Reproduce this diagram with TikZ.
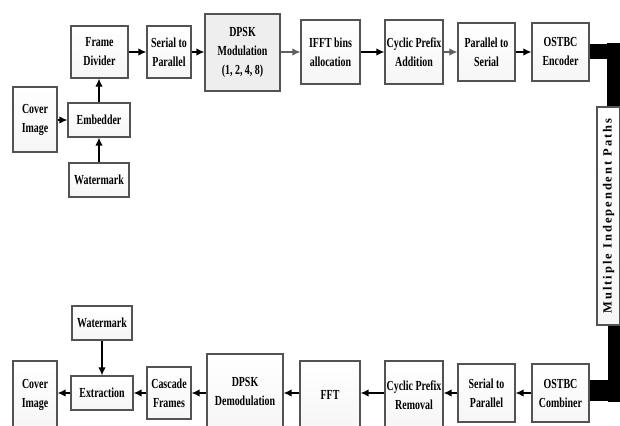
\documentclass[tikz,border=0pt]{standalone}
\usepackage{fontspec}
\usepackage{graphicx}
\setmainfont{Liberation Serif}
\newfontfamily\boxfont[FakeStretch=0.72]{Liberation Serif}
\newfontfamily\pathfont[LetterSpace=16]{Liberation Serif}
\usetikzlibrary{arrows.meta}
\tikzset{
  blk/.style={draw=gray!65!black, line width=1.1pt, top color=white, bottom color=gray!7,
    align=center, inner sep=0pt,
    font={\boxfont\bfseries\fontsize{13.8pt}{19pt}\selectfont}},
  arr/.style={line width=1.8pt, -{Latex[length=8pt,width=7.5pt]}},
  garr/.style={arr, draw=gray!75!black, -{Latex[length=8pt,width=7.5pt,fill=gray!75!black]}},
  thickbar/.style={draw=black, line cap=butt}
}
\begin{document}
\begin{tikzpicture}[x=1pt,y=-1pt]
\useasboundingbox (0,0) rectangle (620,425);
\clip (0,0) rectangle (620,425);
% top row
\node[blk, minimum width=44pt, minimum height=65pt] (coverT) at (35,119.5) {Cover\\Image};
\node[blk, minimum width=62pt, minimum height=34pt] (embed) at (99,120) {Embedder};
\node[blk, minimum width=60pt, minimum height=34pt] (wmT) at (99,180) {Watermark};
\node[blk, minimum width=57pt, minimum height=52pt] (frame) at (99.5,52) {Frame\\Divider};
\node[blk, minimum width=44pt, minimum height=52pt] (s2p) at (169,52) {Serial to\\Parallel};
\node[blk, minimum width=75pt, minimum height=77pt, top color=gray!13, bottom color=gray!13] (dpsk) at (242.5,52.5) {DPSK\\Modulation\\(1, 2, 4, 8)};
\node[blk, minimum width=59pt, minimum height=64pt] (ifft) at (330.5,52) {IFFT bins\\allocation};
\node[blk, minimum width=58pt, minimum height=64pt] (cpa) at (414,52) {Cyclic Prefix\\Addition};
\node[blk, minimum width=57pt, minimum height=58pt] (p2s) at (486.5,52) {Parallel to\\Serial};
\node[blk, minimum width=57pt, minimum height=58pt] (enc) at (560.5,52) {OSTBC\\Encoder};
\node[blk, minimum width=23pt, minimum height=218pt] (mip) at (608.5,216)
  {\rotatebox{90}{\pathfont\bfseries\fontsize{12.5pt}{14pt}\selectfont Multiple Independent Paths}};
% bottom row
\node[blk, minimum width=57pt, minimum height=58pt] (comb) at (560.5,393) {OSTBC\\Combiner};
\node[blk, minimum width=57pt, minimum height=58pt] (s2pB) at (486.5,393) {Serial to\\Parallel};
\node[blk, minimum width=58pt, minimum height=68pt] (cpr) at (414,395) {Cyclic Prefix\\Removal};
\node[blk, minimum width=60pt, minimum height=68pt] (fft) at (330,395) {FFT};
\node[blk, minimum width=76pt, minimum height=76pt] (demod) at (245,392) {DPSK\\Demodulation};
\node[blk, minimum width=44pt, minimum height=52pt] (casc) at (169,393) {Cascade\\Frames};
\node[blk, minimum width=62pt, minimum height=34pt] (extr) at (102,393) {Extraction};
\node[blk, minimum width=44pt, minimum height=68pt] (coverB) at (35,395) {Cover\\Image};
\node[blk, minimum width=60pt, minimum height=34pt] (wmB) at (102,323) {Watermark};
% top arrows
\draw[arr] (coverT.east |- embed) -- (embed.west);
\draw[arr] (embed.north) -- (embed.north |- frame.south);
\draw[arr] (wmT.north) -- (wmT.north |- embed.south);
\draw[arr] (frame.east) -- (frame.east -| s2p.west);
\draw[arr] (s2p.east) -- (s2p.east -| dpsk.west);
\draw[garr] (dpsk.east |- ifft) -- (ifft.west);
\draw[arr] (ifft.east) -- (ifft.east -| cpa.west);
\draw[garr] (cpa.east) -- (cpa.east -| p2s.west);
\draw[arr] (p2s.east) -- (p2s.east -| enc.west);
% thick channel bars
\draw[thickbar, line width=15pt] (enc.east) -- ++(31.5,0);
\draw[thickbar, line width=13pt] ([xshift=5pt]mip.north) -- ++(0,-63.5);
\draw[thickbar, line width=12pt] ([xshift=5.5pt]mip.south) -- ++(0,76);
\draw[thickbar, line width=21pt] ([yshift=3pt]comb.east) -- ++(31.5,0);
% bottom arrows
\draw[arr] (comb.west) -- (comb.west -| s2pB.east);
\draw[arr] (s2pB.west) -- (s2pB.west -| cpr.east);
\draw[arr] (cpr.west |- s2pB) -- (fft.east |- s2pB);
\draw[arr] (fft.west |- s2pB) -- (demod.east |- s2pB);
\draw[arr] (demod.west |- casc) -- (casc.east);
\draw[arr] (casc.west) -- (casc.west -| extr.east);
\draw[arr] (extr.west) -- (extr.west -| coverB.east);
\draw[arr] (wmB.south) -- (wmB.south |- extr.north);
\end{tikzpicture}
\end{document}
